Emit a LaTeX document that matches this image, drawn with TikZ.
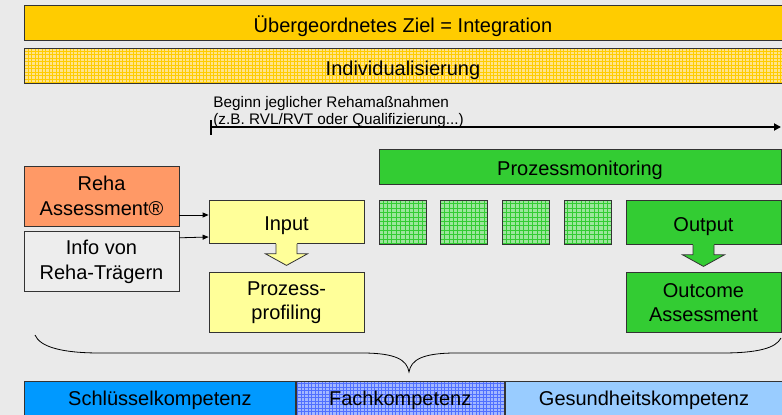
\documentclass[tikz,border=0pt]{standalone}
\usepackage{fontspec}
\setmainfont{Liberation Sans}
\usepackage{tikz}
\usetikzlibrary{arrows.meta,calc,patterns,positioning}

\definecolor{bgray}{HTML}{EAEAEA}
\definecolor{edge}{HTML}{333333}
\definecolor{ziel}{HTML}{FFCC00}
\definecolor{indivbase}{HTML}{FFE38A}
\definecolor{reha}{HTML}{FF9966}
\definecolor{infoc}{HTML}{EDEDED}
\definecolor{inputc}{HTML}{FFFF99}
\definecolor{monigreen}{HTML}{33CC33}
\definecolor{tilebase}{HTML}{9CE69C}
\definecolor{schl}{HTML}{0099FF}
\definecolor{fachbase}{HTML}{A3B8FF}
\definecolor{fachline}{HTML}{5070FF}
\definecolor{ges}{HTML}{99CCFF}

\pgfdeclarepatternformonly{mesh}{\pgfqpoint{-1pt}{-1pt}}{\pgfqpoint{4.5pt}{4.5pt}}{\pgfqpoint{3.5pt}{3.5pt}}{%
	\pgfsetlinewidth{0.5pt}
	\pgfpathmoveto{\pgfqpoint{0pt}{0pt}}\pgfpathlineto{\pgfqpoint{3.6pt}{0pt}}
	\pgfpathmoveto{\pgfqpoint{0pt}{0pt}}\pgfpathlineto{\pgfqpoint{0pt}{3.6pt}}
	\pgfusepath{stroke}}
\pgfdeclarepatternformonly{widemesh}{\pgfqpoint{-1pt}{-1pt}}{\pgfqpoint{5.4pt}{5.4pt}}{\pgfqpoint{4.4pt}{4.4pt}}{%
	\pgfsetlinewidth{0.6pt}
	\pgfpathmoveto{\pgfqpoint{0pt}{0pt}}\pgfpathlineto{\pgfqpoint{4.5pt}{0pt}}
	\pgfpathmoveto{\pgfqpoint{0pt}{0pt}}\pgfpathlineto{\pgfqpoint{0pt}{4.5pt}}
	\pgfusepath{stroke}}

\begin{document}
\begin{tikzpicture}[x=1pt,y=-1pt,>={Triangle[length=6pt,width=5pt]},
		line width=0.8pt,inner sep=0pt]
		\tikzstyle{box}=[draw=edge,minimum width=155pt,align=center,
			font=\fontsize{20}{24.5}\selectfont]
		\tikzstyle{low}=[text height=18pt,text depth=0pt]
		\tikzstyle{bar}=[box,minimum height=35pt]
		\tikzstyle{tile}=[draw=edge,minimum width=47pt,minimum height=44pt,
			preaction={fill=tilebase},pattern=widemesh,pattern color=monigreen]
		
		\fill[bgray] (0,0) rectangle (782,415);
		\useasboundingbox (0,0) rectangle (782,415);
		
		\node[bar,low,minimum width=758pt,fill=ziel] (ziel) at (403,23) {Übergeordnetes Ziel = Integration};
		\node[bar,low,minimum width=758pt,preaction={fill=indivbase},pattern=mesh,
			pattern color=ziel] (indiv) at (403,66) {Individualisierung};
		
		\node[anchor=base west,align=left,font=\fontsize{15.3}{17}\selectfont] (beginn)
			at (213,124) {Beginn jeglicher Rehamaßnahmen\\(z.B. RVL/RVT oder Qualifizierung...)};
		\coordinate (start) at (211,127);
		\coordinate (stop) at (781,127);
		\draw[line width=2pt,-{Triangle[length=7pt,width=7pt]}] (start) -- (stop);
		\draw[line width=2pt] ($(start)+(0,-7)$) -- ($(start)+(0,8)$);
		
		\node[bar,low,minimum width=402pt,fill=monigreen] (monitor) at (580,166.5) {Prozessmonitoring};
		
		\node[box,minimum height=60pt,fill=reha] (reha) at (101.5,196) {Reha\\Assessment®};
		\node[box,minimum height=60pt,fill=infoc,below=5pt of reha] (info) {Info von\\Reha-Trägern};
		\node[box,low,minimum height=43pt,fill=inputc] (input) at (286.5,221.5) {Input};
		\node[box,minimum height=60pt,fill=inputc,below=29pt of input] (profil) {Prozess-\\profiling};
		
		\foreach \i in {0,...,3}
			\node[tile] (sq\i) at (402.5+\i*61.7,222) {};
		
		\node[box,low,minimum height=44pt,fill=monigreen] (output) at (703.5,222) {Output};
		\node[box,minimum height=60pt,fill=monigreen,below=28pt of output] (outcome) {Outcome\\Assessment};
		
		\draw[->] ($(reha.east)+(0,19)$) -- ($(input.west)+(0,-6.5)$);
		\draw[->] ($(info.east)+(0,-24)$) -- ($(input.west)+(0,15.5)$);
		
		% block arrows
		\foreach \b/\c in {input/inputc,output/monigreen} {
			\fill[\c] ($(\b.south)+(-10.5,-0.6)$) -- ++(0,11) -- ++(-10.5,0)
				-- ($(\b.south)+(0,22)$) -- ($(\b.south)+(21,10.4)$) -- ++(-10.5,0)
				-- ++(0,-11) -- cycle;
			\draw[edge] ($(\b.south)+(-10.5,0.4)$) -- ++(0,10) -- ++(-10.5,0)
				-- ($(\b.south)+(0,22)$) -- ($(\b.south)+(21,10.4)$) -- ++(-10.5,0)
				-- ++(0,-10);
		}
		
		\tikzstyle{foot}=[bar,text height=14pt,text depth=0pt]
		\node[foot,minimum width=271pt,fill=schl,anchor=north west] (schl) at (24,381) {Schlüsselkompetenz};
		\node[foot,minimum width=208pt,preaction={fill=fachbase},pattern=mesh,
			pattern color=fachline,right=0pt of schl] (fach) {Fachkompetenz};
		\node[foot,minimum width=278pt,fill=ges,right=0pt of fach] (ges) {Gesundheitskompetenz};
		
		% brace
		\coordinate (tip) at (409,372);
		\draw (35,335) .. controls (40,347) and (62,353) .. (100,353) -- (362,353)
			.. controls (396,353) and (407,360) .. (tip)
			.. controls (411,360) and (422,353) .. (456,353) -- (722,353)
			.. controls (758,353) and (776,348) .. (781,338);
		\end{tikzpicture}
\end{document}
